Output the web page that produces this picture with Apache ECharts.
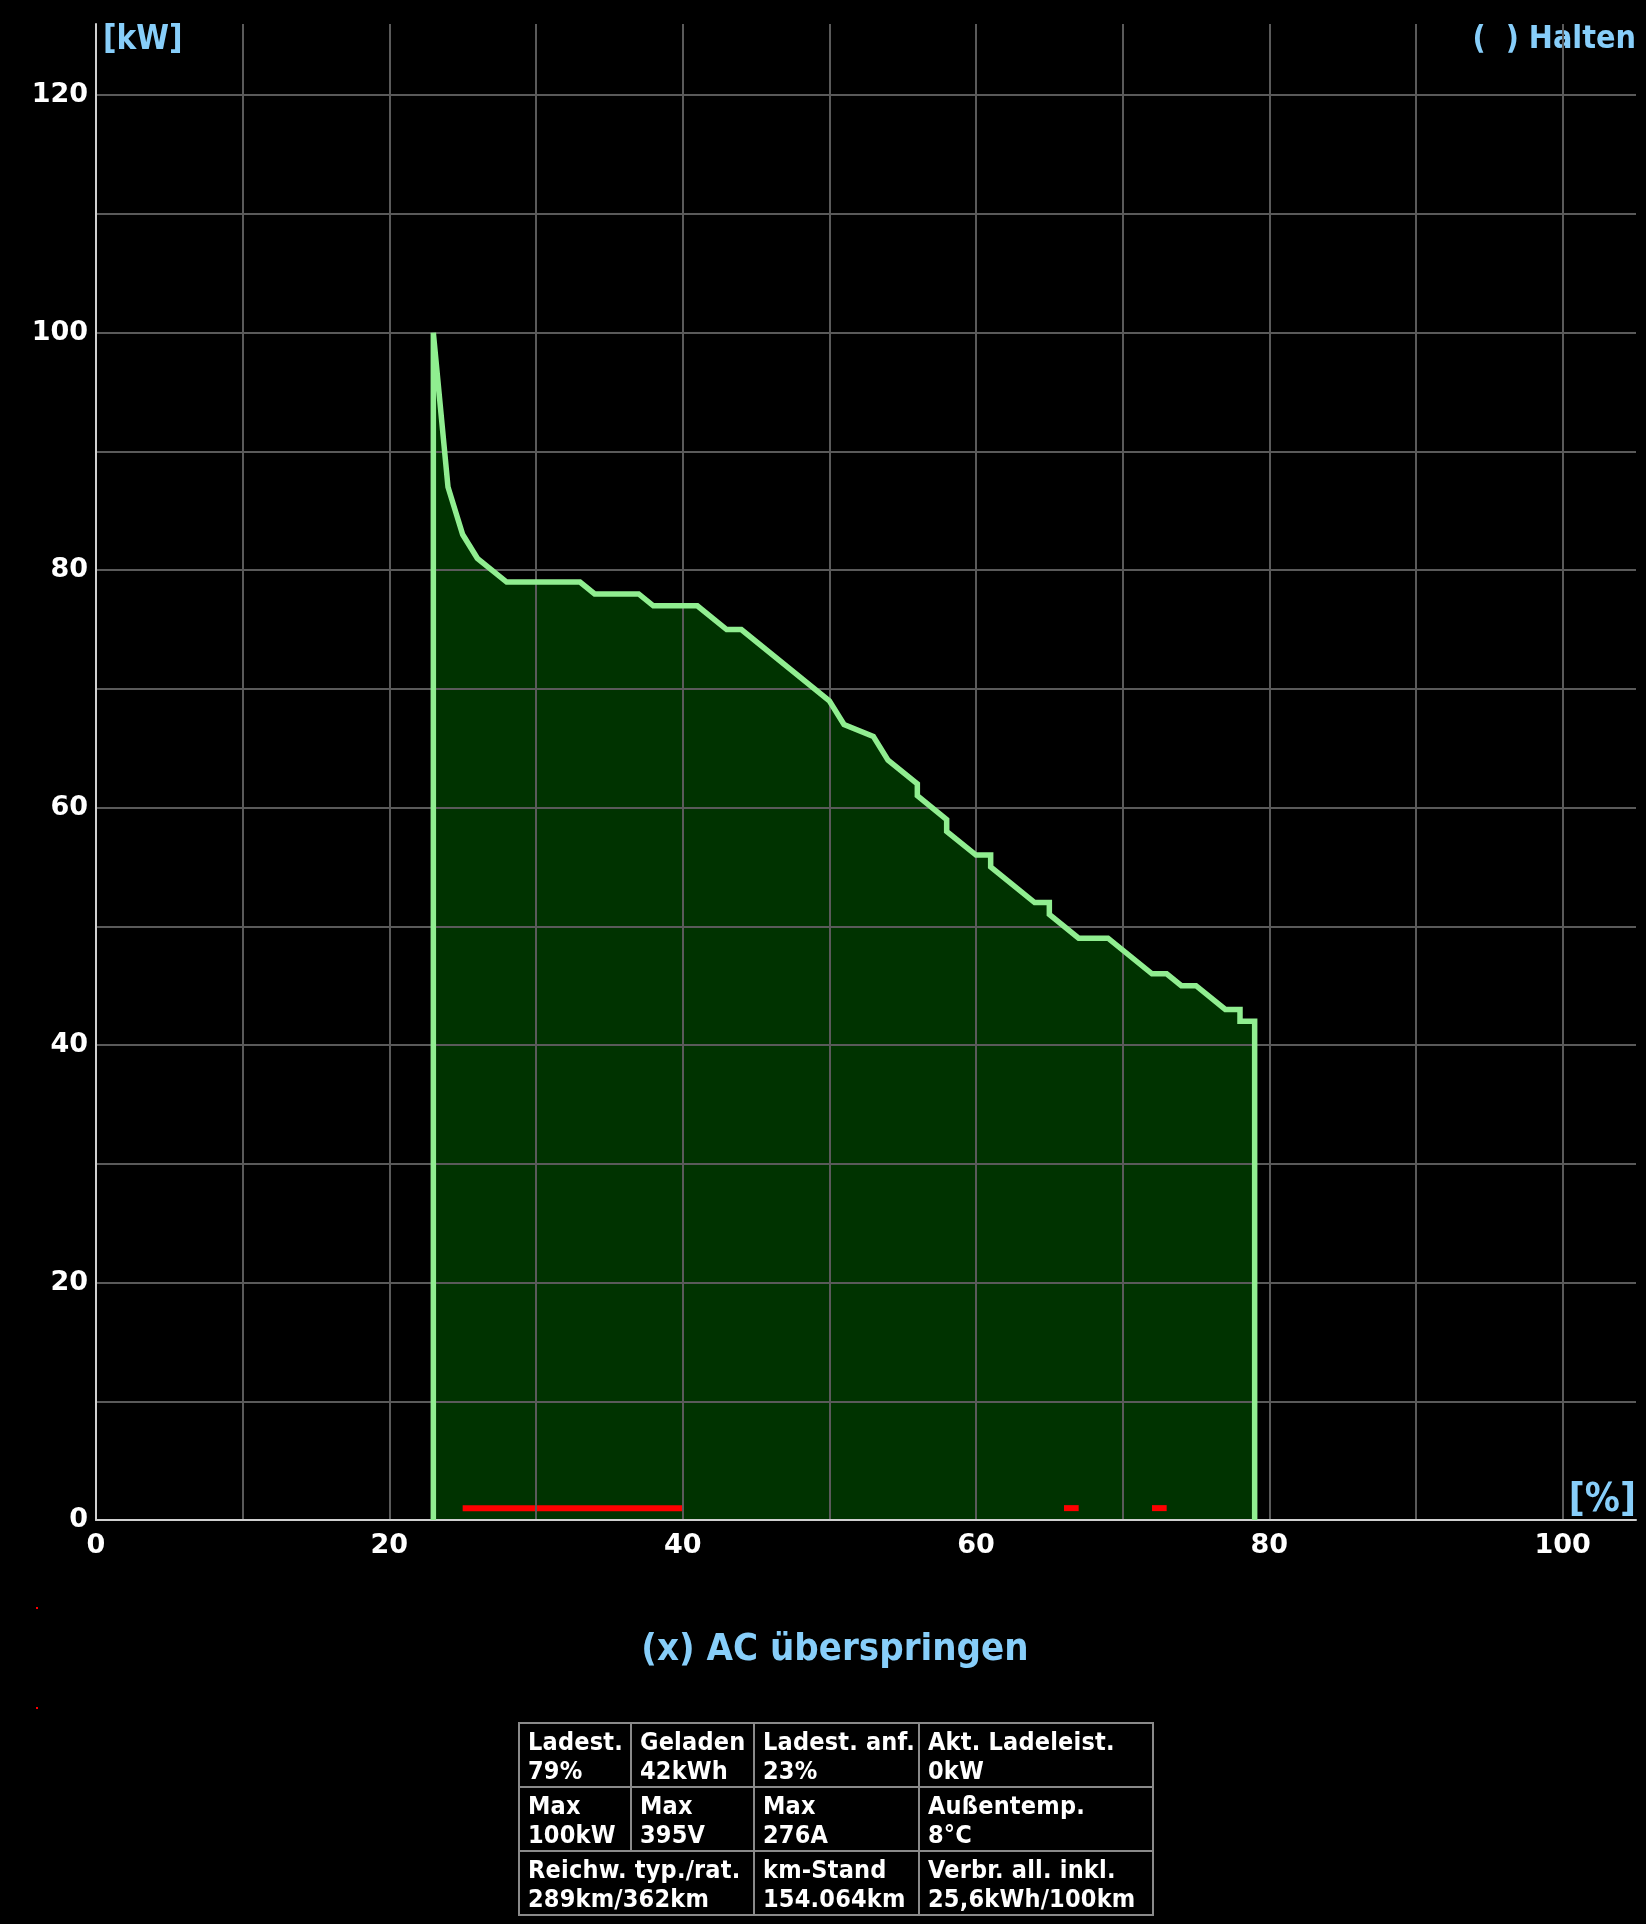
<!DOCTYPE html>
<html><head><meta charset="utf-8">
<script src="https://cdn.jsdelivr.net/npm/echarts@6/dist/echarts.min.js"></script>
<style>
html,body{margin:0;padding:0;background:#000;width:1646px;height:1924px;overflow:hidden;}
#chart{position:absolute;left:0;top:0;width:1646px;height:1924px;}
#info{position:absolute;left:518px;top:1722px;border-collapse:collapse;table-layout:fixed;font-family:'DejaVu Sans Condensed','DejaVu Sans',sans-serif;font-stretch:condensed;font-weight:bold;font-size:25px;color:#fff;line-height:29px;letter-spacing:0.2px;}
#info td{border:2px solid #8a8a8a;padding:3px 1px 1px 8px;vertical-align:top;white-space:nowrap;overflow:hidden;}
</style></head>
<body>
<div id="chart"></div>
<table id="info"><colgroup><col style="width:112px"><col style="width:123px"><col style="width:165px"><col style="width:234px"></colgroup><tbody id="infoBody"></tbody></table>
<script>
// ---- data ----
const socPct   = [23, 23, 24, 25, 26, 28, 33, 34, 37, 38, 41, 43, 44, 50, 51, 53, 54, 56, 56, 58, 58, 60, 61, 61, 64, 65, 65, 67, 69, 72, 73, 74, 75, 77, 78, 78, 79, 79];
const powerKw  = [0, 100, 87, 83, 81, 79, 79, 78, 78, 77, 77, 75, 75, 69, 67, 66, 64, 62, 61, 59, 58, 56, 56, 55, 52, 52, 51, 49, 49, 46, 46, 45, 45, 43, 43, 42, 42, 0];
const pauseStart = [25, 66, 72];
const pauseEnd   = [40, 67, 73];
const pauseLevel = 1;
const xTicks = [0, 20, 40, 60, 80, 100];
const yTicks = [0, 20, 40, 60, 80, 100, 120];
const tableLabels = [['Ladest.', 'Geladen', 'Ladest. anf.', 'Akt. Ladeleist.'], ['Max', 'Max', 'Max', 'Außentemp.'], ['Reichw. typ./rat.', 'km-Stand', 'Verbr. all. inkl.']];
const tableValues = [['79%', '42kWh', '23%', '0kW'], ['100kW', '395V', '276A', '8°C'], ['289km/362km', '154.064km', '25,6kWh/100km']];
const tableSpans  = [[1, 1, 1, 1], [1, 1, 1, 1], [2, 1, 1]];
const yUnit = '[kW]';
const xUnit = '[%]';
const holdText = '(  ) Halten';
const titleText = '(x) AC überspringen';

// ---- table ----
const tb = document.getElementById('infoBody');
tableLabels.forEach((row, r) => {
  const tr = document.createElement('tr');
  row.forEach((lab, c) => {
    const td = document.createElement('td');
    td.colSpan = tableSpans[r][c];
    td.innerHTML = lab + '<br>' + tableValues[r][c];
    tr.appendChild(td);
  });
  tb.appendChild(tr);
});

// ---- chart ----
const FONT = "'DejaVu Sans', Verdana, sans-serif";
const CFONT = "'DejaVu Sans Condensed', 'DejaVu Sans', sans-serif";
const curve = socPct.map((x, i) => [x, powerKw[i]]);
const redSeries = pauseStart.map((s, i) => ({
  type: 'line', data: [[s, pauseLevel], [pauseEnd[i], pauseLevel]], symbol: 'none', silent: true,
  lineStyle: { color: '#ff0000', width: 6, cap: 'butt' }, z: 1.5
}));
const chart = echarts.init(document.getElementById('chart'), null, { renderer: 'canvas' });
const axisLabel = (ticks) => ({
  color: '#ffffff', fontWeight: 'bold', fontSize: 27, fontFamily: FONT,
  formatter: v => ticks.indexOf(v) >= 0 ? String(v) : ''
});
chart.setOption({
  backgroundColor: '#000000',
  animation: false,
  grid: { left: 96, top: 24, right: 10, bottom: 404, containLabel: false },
  xAxis: {
    type: 'value', min: 0, max: 105, interval: 10, z: 2,
    axisLine: { show: true, onZero: false, lineStyle: { color: '#d0d0d0', width: 2 } },
    axisTick: { show: false },
    axisLabel: Object.assign(axisLabel(xTicks), { margin: 12 }),
    splitLine: { show: true, showMaxLine: false, lineStyle: { color: '#5a5a5a', width: 2 } }
  },
  yAxis: {
    type: 'value', min: 0, max: 126, interval: 10, z: 2,
    axisLine: { show: true, onZero: false, lineStyle: { color: '#d0d0d0', width: 2 } },
    axisTick: { show: false },
    axisLabel: Object.assign(axisLabel(yTicks), { margin: 8 }),
    splitLine: { show: true, showMaxLine: false, lineStyle: { color: '#5a5a5a', width: 2 } }
  },
  series: [
    { type: 'line', data: curve, symbol: 'none', silent: true, z: 1,
      lineStyle: { opacity: 0, width: 0 }, areaStyle: { color: '#003300', opacity: 1 } },
    ...redSeries,
    { type: 'line', data: curve, symbol: 'none', silent: true, z: 3,
      lineStyle: { color: '#90ee90', width: 5.5, join: 'miter', miterLimit: 2 } }
  ],
  graphic: [
    { type: 'text', x: 103, y: 40, silent: true,
      style: { text: yUnit, fill: '#87cefa', font: 'bold 33px ' + CFONT, align: 'left', verticalAlign: 'middle' } },
    { type: 'text', x: 1636, y: 40, silent: true,
      style: { text: holdText, fill: '#87cefa', font: 'bold 32px ' + CFONT, align: 'right', verticalAlign: 'middle' } },
    { type: 'text', x: 1636, y: 1501, silent: true,
      style: { text: xUnit, fill: '#87cefa', font: 'bold 39px ' + CFONT, align: 'right', verticalAlign: 'middle' } },
    { type: 'text', x: 835, y: 1650, silent: true,
      style: { text: titleText, fill: '#87cefa', font: 'bold 38px ' + CFONT, align: 'center', verticalAlign: 'middle' } },
    { type: 'rect', shape: { x: 36, y: 1607, width: 2, height: 2 }, style: { fill: '#ff0000' }, silent: true },
    { type: 'rect', shape: { x: 36, y: 1707, width: 2, height: 2 }, style: { fill: '#ff0000' }, silent: true }
  ]
});
</script>
</body></html>
